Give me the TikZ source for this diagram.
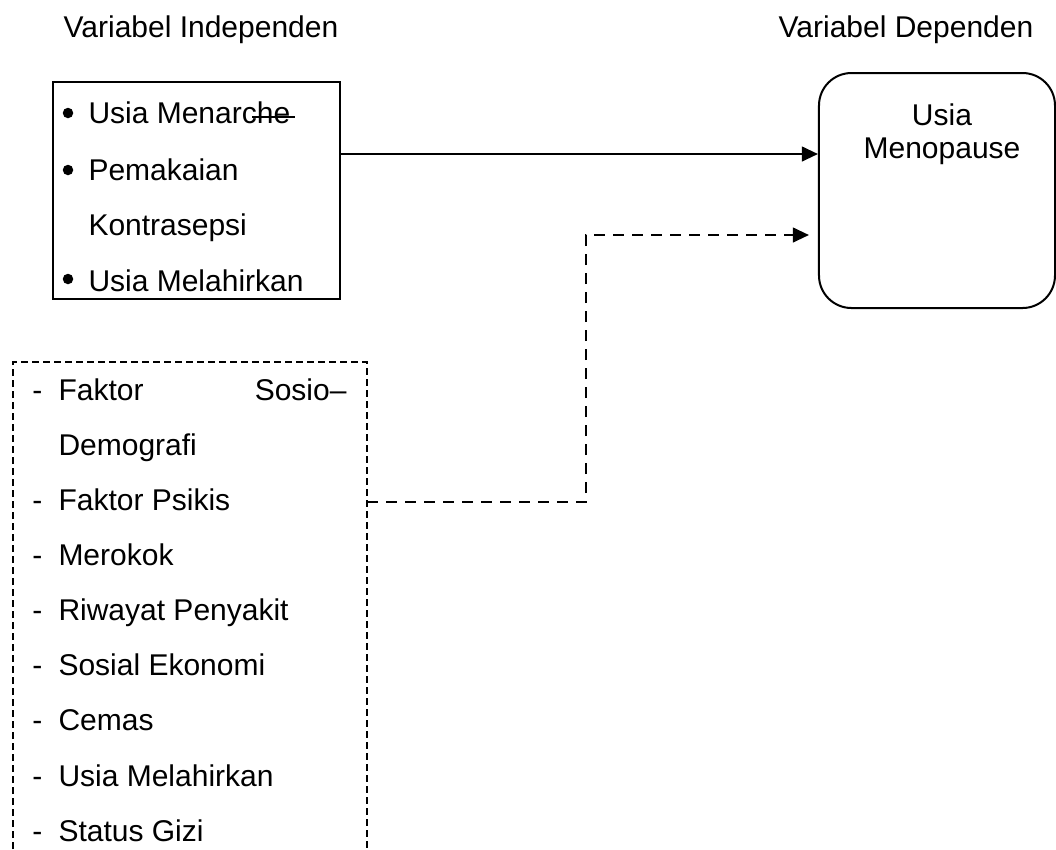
\documentclass[tikz,border=0pt]{standalone}
\usepackage{fontspec}
\setmainfont{Liberation Sans}
\usetikzlibrary{arrows.meta}

\begin{document}
\begin{tikzpicture}[x=0.4pt,y=-0.4pt,
    teks/.style={anchor=base west,inner sep=0pt,font=\fontsize{12}{14}\selectfont},
    kotak/.style={draw,line width=0.8pt,inner sep=0pt},
    panah/.style={line width=1pt,-{Triangle[length=6.4pt,width=5.8pt]}},
    putus/.style={dash pattern=on 4.4pt off 3.2pt},
    putuskotak/.style={line width=0.9pt,dash pattern=on 2.8pt off 1.6pt}]
      \useasboundingbox (0,0) rectangle (1056,849);
      % judul
      \node[teks,anchor=base] (judul1) at (201,37) {Variabel Independen};
      \node[teks,anchor=base] (judul2) at (906,37) {Variabel Dependen};
      % variabel independen
      \node[kotak,minimum width=114.8pt,minimum height=86.8pt] (indep) at (196.5,190.5) {};
      \fill (68,113) circle (2.1pt);
      \node[teks] (v1) at (88,123) {Usia Menarche};
      \draw[line width=0.8pt] (252,117)--(295,117);
      \fill (68,170) circle (2.1pt);
      \node[teks] (v2) at (88,180) {Pemakaian};
      \node[teks] (v3) at (88,235) {Kontrasepsi};
      \fill (68,279) circle (2.1pt);
      \node[teks] (v4) at (88,291) {Usia Melahirkan};
      % variabel dependen
      \node[kotak,rounded corners=13pt,minimum width=94.4pt,minimum height=94pt] (dep) at (937,190.5) {};
      \node[teks,anchor=base] (d1) at (942,125) {Usia};
      \node[teks,anchor=base] (d2) at (942,158) {Menopause};
      % faktor lain
      \draw[putuskotak] (13,849) |- (367,362) -- (367,849);
      \node[teks] (s0) at (32,400) {-};
      \node[teks] (f0) at (58,400) {Faktor};
      \node[teks,anchor=base east] (f0b) at (347,400) {Sosio–};
      \node[teks] (f0c) at (58,455) {Demografi};
      \foreach \y/\isi [count=\n] in {510/Faktor Psikis,565/Merokok,620/Riwayat Penyakit,
          675/Sosial Ekonomi,730/Cemas,786/Usia Melahirkan,841/Status Gizi}{
        \node[teks] (s\n) at (32,\y) {-};
        \node[teks] (f\n) at (58,\y) {\isi};
      }
      \coordinate (conf) at (367,502);
      % panah
      \draw[panah] (indep.east |- 0,154)--(dep.west |- 0,154);
      \draw[panah,putus] (conf)--(586,502) |- ([xshift=-3.6pt]dep.west |- 0,235);
    \end{tikzpicture}
\end{document}
